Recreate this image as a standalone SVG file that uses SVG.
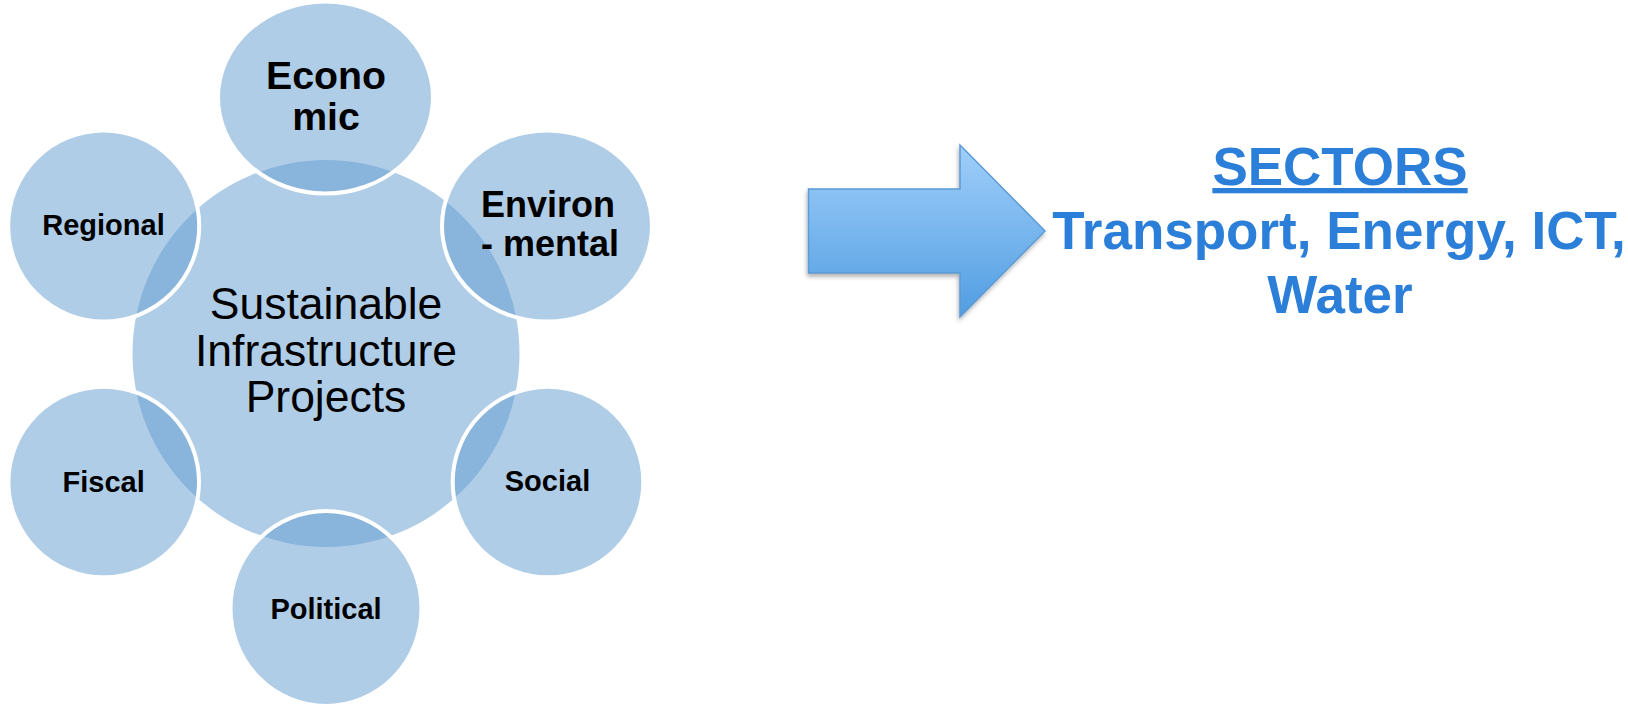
<svg xmlns="http://www.w3.org/2000/svg" width="1628" height="709" viewBox="0 0 1628 709">
  <defs>
    <linearGradient id="arrowFill" x1="0" y1="0" x2="0" y2="1">
      <stop offset="0" stop-color="#a0cffa"/>
      <stop offset="1" stop-color="#519de2"/>
    </linearGradient>
    <filter id="softShadow" x="-10%" y="-10%" width="130%" height="130%">
      <feDropShadow dx="-1" dy="3" stdDeviation="2" flood-color="#000" flood-opacity="0.3"/>
    </filter>
  </defs>
  <style>
    .hub { fill: #b0cde7; }
    .facet { fill: #619bcf; fill-opacity: 0.5; stroke: #ffffff; stroke-width: 4; }
    .facet-label { font-family: "Liberation Sans", Arial, sans-serif; font-weight: bold; fill: #000; text-anchor: middle; }
    .hub-label { font-family: "Liberation Sans", Arial, sans-serif; font-size: 44.5px; fill: #000; text-anchor: middle; }
    .sector { font-family: "Liberation Sans", Arial, sans-serif; font-weight: bold; font-size: 53px; fill: #2b7fd8; text-anchor: middle; }
  </style>

  <!-- central hub -->
  <g id="hub">
    <circle class="hub" cx="326" cy="353.5" r="193.5"/>
    <text class="hub-label" x="326" y="319">Sustainable</text>
    <text class="hub-label" x="326" y="366">Infrastructure</text>
    <text class="hub-label" x="326" y="412">Projects</text>
  </g>

  <!-- surrounding dimensions -->
  <g id="economic">
    <ellipse class="facet" cx="325.5" cy="97.5" rx="107.5" ry="96"/>
    <text class="facet-label" x="326" y="89" font-size="39.3">Econo</text>
    <text class="facet-label" x="326" y="130" font-size="39.3">mic</text>
  </g>
  <g id="environmental">
    <ellipse class="facet" cx="547" cy="226" rx="105" ry="95.5"/>
    <text class="facet-label" x="548" y="217" font-size="36">Environ</text>
    <text class="facet-label" x="550" y="256" font-size="36">- mental</text>
  </g>
  <g id="regional">
    <circle class="facet" cx="103.7" cy="226" r="95.5"/>
    <text class="facet-label" x="103.5" y="235" font-size="29">Regional</text>
  </g>
  <g id="fiscal">
    <circle class="facet" cx="103.7" cy="482" r="95.3"/>
    <text class="facet-label" x="103.7" y="491.5" font-size="29">Fiscal</text>
  </g>
  <g id="social">
    <circle class="facet" cx="548" cy="482" r="95.3"/>
    <text class="facet-label" x="547.5" y="491" font-size="29">Social</text>
  </g>
  <g id="political">
    <ellipse class="facet" cx="326" cy="608.5" rx="95.5" ry="97.5"/>
    <text class="facet-label" x="326" y="619" font-size="29">Political</text>
  </g>

  <!-- block arrow -->
  <g id="connectors">
    <path d="M808.5,189 H960 V145 L1045,231 L960,317 V273 H808.5 Z" fill="url(#arrowFill)" stroke="#5b9bd5" stroke-width="1.5" filter="url(#softShadow)"/>
  </g>

  <!-- sectors -->
  <g id="sectors">
    <text class="sector" x="1340" y="185" text-decoration="underline">SECTORS</text>
    <text class="sector" x="1339" y="249">Transport, Energy, ICT,</text>
    <text class="sector" x="1340" y="313">Water</text>
  </g>
</svg>
